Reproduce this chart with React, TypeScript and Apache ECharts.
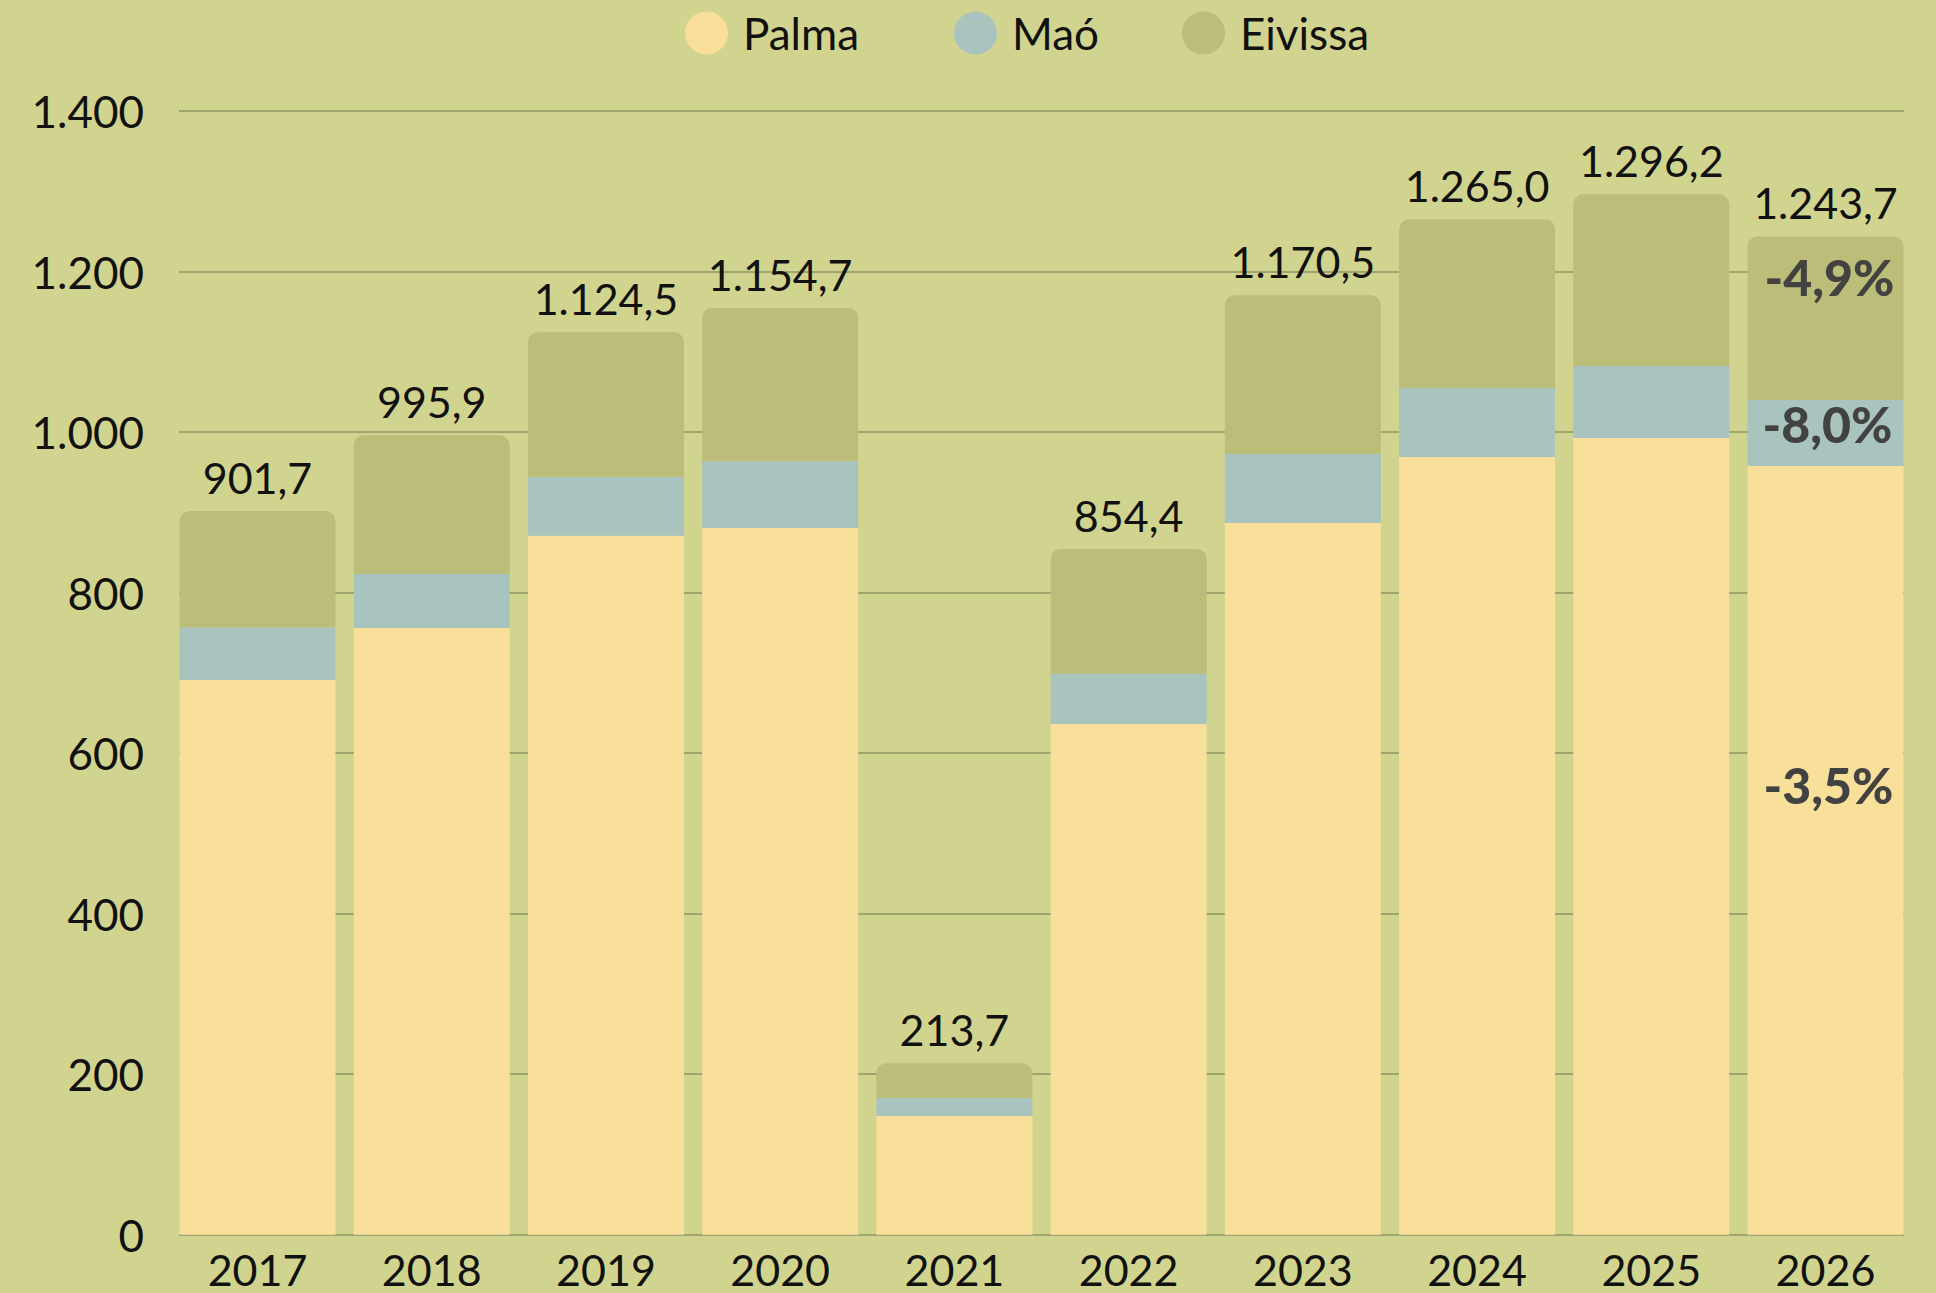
import React, { useEffect, useRef } from "react";
import * as echarts from "echarts";

const years = ["2017", "2018", "2019", "2020", "2021", "2022", "2023", "2024", "2025", "2026"];
const palma = [691.1, 755.9, 870.9, 880.5, 147.9, 636.3, 886.7, 969.0, 992.6, 957.7];
const mao = [65.7, 67.6, 73.1, 83.1, 22.4, 62.7, 86.0, 86.3, 89.7, 82.3];
const eivissa = [144.9, 172.4, 180.5, 191.1, 43.4, 155.4, 197.8, 209.7, 213.9, 203.7];
const totals = [901.7, 995.9, 1124.5, 1154.7, 213.7, 854.4, 1170.5, 1265.0, 1296.2, 1243.7];
const seriesNames = ["Palma", "Maó", "Eivissa"];
const lastChangePalma = "-3,5%";
const lastChangeMao = "-8,0%";
const lastChangeEivissa = "-4,9%";

const BG = "#d1d48e";
const C_PALMA = "#f8e09b";
const C_MAO = "#a9c3bf";
const C_EIV = "#bbbd78";
const FONT = "Lato";

function thousands(s: string) {
  return s.replace(/\B(?=(\d{3})+(?!\d))/g, ".");
}
function fmtDec(v: number) {
  const [i, d] = v.toFixed(1).split(".");
  return thousands(i) + "," + d;
}

export default function App() {
  const ref = useRef<HTMLDivElement>(null);
  useEffect(() => {
    const chart = echarts.init(ref.current!, null, { renderer: "svg" });
    const last = years.length - 1;
    const pctLabel = (text: string, extra: any) => ({
      show: true,
      formatter: text,
      fontFamily: FONT,
      fontWeight: 900,
      fontSize: 50,
      color: "#424242",
      ...extra,
    });
    const barCommon = {
      type: "bar",
      xAxisIndex: 1,
      yAxisIndex: 1,
      barWidth: 156,
      barGap: "-100%",
      stack: "t",
      silent: true,
    };
    const legendLefts = [680, 949, 1177];
    const legends = seriesNames.map((n, k) => ({
      data: [n],
      left: legendLefts[k],
      top: 6,
      icon: "circle",
      itemWidth: 43,
      itemHeight: 43,
      selectedMode: false,
      textStyle: { fontFamily: FONT, fontSize: 44, color: "#111", padding: [0, 0, 0, 10] },
    }));
    chart.setOption({
      animation: false,
      backgroundColor: BG,
      textStyle: { fontFamily: FONT },
      legend: legends,
      grid: [
        { left: 179, right: 32, top: 111, bottom: 58.3 },
        { left: 170.4, right: 23.4, top: 111, bottom: 58.3 },
      ],
      xAxis: [
        { type: "value", gridIndex: 0, min: 0, max: 1, show: false },
        {
          type: "category",
          gridIndex: 1,
          data: years,
          axisLine: { show: false },
          axisTick: { show: false },
          axisLabel: { fontFamily: FONT, fontSize: 43, lineHeight: 34, color: "#111", margin: 18 },
        },
      ],
      yAxis: [
        {
          type: "value",
          gridIndex: 0,
          min: 0,
          max: 1400,
          interval: 200,
          axisLine: { show: false },
          axisTick: { show: false },
          axisLabel: {
            fontFamily: FONT,
            fontSize: 44,
            color: "#111",
            margin: 35,
            formatter: (v: number) => thousands(String(v)),
          },
          splitLine: { lineStyle: { color: "#9ea56f", width: 2 } },
        },
        { type: "value", gridIndex: 1, min: 0, max: 1400, interval: 200, show: false },
      ],
      series: [
        {
          ...barCommon,
          name: seriesNames[0],
          itemStyle: { color: C_PALMA },
          data: palma.map((v, i) =>
            i === last ? { value: v, label: pctLabel(lastChangePalma, { position: "inside", offset: [3, -65] }) } : v
          ),
        },
        {
          ...barCommon,
          name: seriesNames[1],
          itemStyle: { color: C_MAO },
          data: mao.map((v, i) =>
            i === last ? { value: v, label: pctLabel(lastChangeMao, { position: "inside", offset: [2, -9] }) } : v
          ),
        },
        {
          ...barCommon,
          name: seriesNames[2],
          itemStyle: { color: C_EIV, borderRadius: [10, 10, 0, 0] },
          data: eivissa.map((v, i) =>
            i === last
              ? { value: v, label: pctLabel(lastChangeEivissa, { position: "insideTop", distance: 16, offset: [4, 0] }) }
              : v
          ),
        },
        {
          type: "bar",
          name: "Total",
          xAxisIndex: 1,
          yAxisIndex: 1,
          barWidth: 156,
          barGap: "-100%",
          silent: true,
          itemStyle: { color: "rgba(0,0,0,0)" },
          label: {
            show: true,
            position: "top",
            distance: 12,
            fontFamily: FONT,
            fontSize: 43,
            color: "#111",
            formatter: (p: any) => fmtDec(totals[p.dataIndex]),
          },
          data: totals,
          z: 1,
        },
      ],
    });
    return () => chart.dispose();
  }, []);
  return (
    <div
      ref={ref}
      style={{ position: "fixed", left: 0, top: 0, width: 1936, height: 1293, background: BG }}
    />
  );
}
